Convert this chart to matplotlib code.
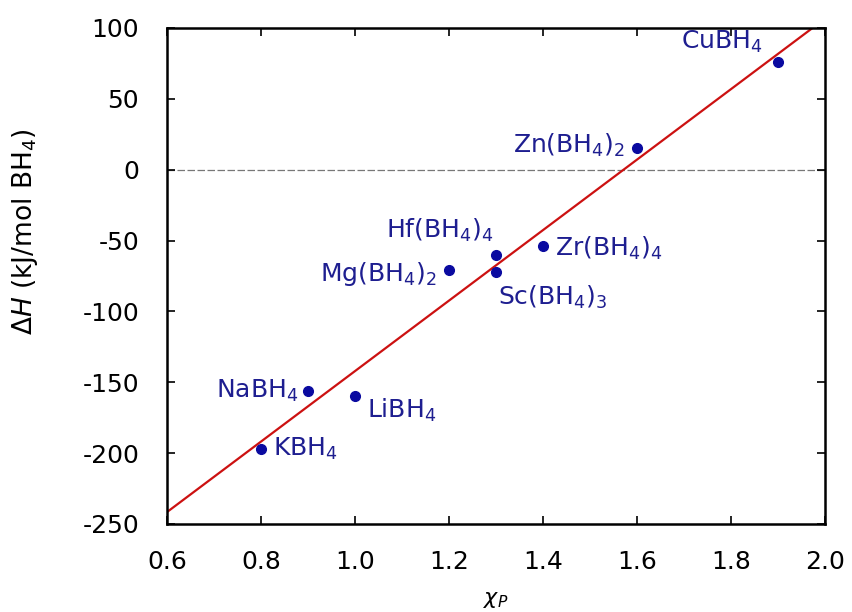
import matplotlib
matplotlib.use('Agg')
import matplotlib.pyplot as plt

plt.rcParams['font.family'] = ['DejaVu Sans']
plt.rcParams['mathtext.fontset'] = 'dejavusans'
plt.rcParams['axes.unicode_minus'] = False

# data
chi_p = [0.8, 0.9, 1.0, 1.2, 1.3, 1.3, 1.4, 1.6, 1.9]
delta_h = [-197, -156, -160, -71, -60, -72, -54, 15, 76]
names = ['KBH$_4$', 'NaBH$_4$', 'LiBH$_4$', 'Mg(BH$_4$)$_2$', 'Hf(BH$_4$)$_4$',
         'Sc(BH$_4$)$_3$', 'Zr(BH$_4$)$_4$', 'Zn(BH$_4$)$_2$', 'CuBH$_4$']
# label offsets in pixels and alignment
offsets = [(12, 0), (-10, 0), (12, -14), (-12, -4), (-3, 24),
           (2, -26), (12, -2), (-12, 3), (-15, 20)]
aligns = ['left', 'right', 'left', 'right', 'right',
          'left', 'left', 'right', 'right']

# linear fit dH = 248.7*chi - 390.8
fit_x = [0.6, 2.0]
fit_y = [248.7 * x - 390.8 for x in fit_x]

fig = plt.figure(figsize=(8.53, 6.12), dpi=100)
ax = fig.add_axes([0.1958, 0.1438, 0.7714, 0.8105])

ax.axhline(0, color='#777777', lw=0.9, ls=(0, (6, 2)), zorder=1)
ax.plot(fit_x, fit_y, color='#cc1111', lw=1.6, zorder=2)
ax.plot(chi_p, delta_h, 'o', color='#0a0aa0', ms=7, zorder=3)

for x, y, n, off, ha in zip(chi_p, delta_h, names, offsets, aligns):
    ax.annotate(n, (x, y), xytext=off, textcoords='offset pixels',
                ha=ha, va='center', color='#1e1e90', fontsize=18)

ax.set_xlim(0.6, 2.0)
ax.set_ylim(-250, 100)
ax.set_xticks([0.6, 0.8, 1.0, 1.2, 1.4, 1.6, 1.8, 2.0])
ax.set_xticklabels(['0.6', '0.8', '1.0', '1.2', '1.4', '1.6', '1.8', '2.0'])
ax.set_yticks(range(-250, 101, 50))
ax.tick_params(direction='in', top=True, right=True, length=6, width=1.2,
               labelsize=18)
ax.tick_params(axis='y', pad=20)
ax.tick_params(axis='x', pad=19)
for s in ax.spines.values():
    s.set_linewidth(1.8)

ax.set_xlabel(r'$\chi_P$', fontsize=16)
ax.xaxis.set_label_coords(0.5, -0.133)
ax.set_ylabel(r'$\Delta H$ (kJ/mol BH$_4$)', fontsize=19)
ax.yaxis.set_label_coords(-0.193, 0.59)

fig.savefig('out.png', dpi=100)
